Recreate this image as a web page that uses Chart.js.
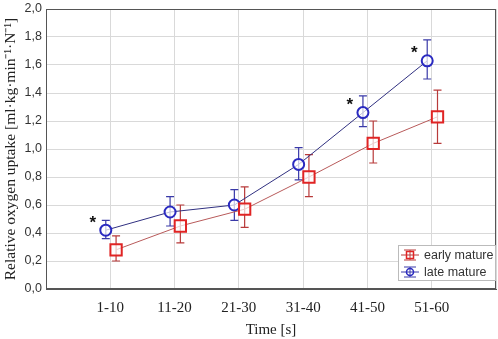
<!DOCTYPE html>
<html lang="en">
<head>
<meta charset="UTF-8">
<title>Relative oxygen uptake</title>
<script src="https://cdn.jsdelivr.net/npm/chart.js"></script>
<style>
  html, body { margin: 0; padding: 0; background: #fff; }
  #wrap { width: 498px; height: 339px; }
</style>
</head>
<body>
<div id="wrap"><canvas id="oxygen-chart" width="498" height="339"></canvas></div>
<script>
// time intervals
const categories = ['1-10', '11-20', '21-30', '31-40', '41-50', '51-60'];

// early mature: means and error bar ends
const earlyMean = [0.28, 0.45, 0.57, 0.80, 1.04, 1.23];
const earlyLow  = [0.20, 0.33, 0.44, 0.66, 0.90, 1.04];
const earlyHigh = [0.38, 0.60, 0.73, 0.96, 1.20, 1.42];

// late mature
const lateMean = [0.42, 0.55, 0.60, 0.89, 1.26, 1.63];
const lateLow  = [0.36, 0.45, 0.49, 0.78, 1.16, 1.50];
const lateHigh = [0.49, 0.66, 0.71, 1.01, 1.38, 1.78];

// significant difference marks
const significant = [true, false, false, false, true, true];

const yTicks = [0, 0.2, 0.4, 0.6, 0.8, 1.0, 1.2, 1.4, 1.6, 1.8, 2.0];

const serif = "'Liberation Serif', 'Times New Roman', serif";
const sans = "'Liberation Sans', Arial, sans-serif";

const errors = [
    { low: earlyLow, high: earlyHigh, color: '#b83a3a' },
    { low: lateLow, high: lateHigh, color: '#3a3aa8' }
];

// error bars drawn under the markers
const errorBars = {
    id: 'errorBars',
    beforeDatasetsDraw(chart) {
        const ctx = chart.ctx;
        const y = chart.scales.y;
        chart.data.datasets.forEach((ds, i) => {
            const meta = chart.getDatasetMeta(i);
            const e = errors[i];
            ctx.save();
            ctx.strokeStyle = e.color;
            ctx.lineWidth = 1.2;
            meta.data.forEach((pt, j) => {
                const top = y.getPixelForValue(e.high[j]);
                const bot = y.getPixelForValue(e.low[j]);
                ctx.beginPath();
                ctx.moveTo(pt.x, top); ctx.lineTo(pt.x, bot);
                ctx.moveTo(pt.x - 4, top); ctx.lineTo(pt.x + 4, top);
                ctx.moveTo(pt.x - 4, bot); ctx.lineTo(pt.x + 4, bot);
                ctx.stroke();
            });
            ctx.restore();
        });
    },
    afterDatasetsDraw(chart) {
        const ctx = chart.ctx;
        const area = chart.chartArea;
        // asterisks next to late mature points
        const meta = chart.getDatasetMeta(1);
        ctx.save();
        ctx.fillStyle = '#111';
        ctx.font = "bold 17px " + sans;
        ctx.textAlign = 'center';
        ctx.textBaseline = 'middle';
        meta.data.forEach((pt, j) => {
            if (significant[j]) ctx.fillText('*', pt.x - 13, pt.y - 7);
        });
        ctx.restore();

        // frame
        ctx.save();
        ctx.strokeStyle = '#555';
        ctx.lineWidth = 1;
        ctx.strokeRect(area.left + 0.5, area.top + 0.5, area.right - area.left - 1, area.bottom - area.top - 1);
        ctx.restore();

        // legend box in the lower right corner
        const lx = area.right - 98, ly = area.bottom - 44, lw = 97, lh = 35;
        ctx.save();
        ctx.fillStyle = '#fff';
        ctx.fillRect(lx, ly, lw, lh);
        ctx.strokeStyle = '#bbb';
        ctx.strokeRect(lx + 0.5, ly + 0.5, lw, lh);
        chart.data.datasets.forEach((ds, i) => {
            const cy = ly + 10 + i * 17;
            const cx = lx + 12;
            ctx.strokeStyle = errors[i].color;
            ctx.lineWidth = 1;
            ctx.beginPath();
            ctx.moveTo(cx - 9, cy); ctx.lineTo(cx + 9, cy);
            ctx.moveTo(cx, cy - 5); ctx.lineTo(cx, cy + 5);
            ctx.moveTo(cx - 6, cy - 5); ctx.lineTo(cx + 6, cy - 5);
            ctx.moveTo(cx - 6, cy + 5); ctx.lineTo(cx + 6, cy + 5);
            ctx.stroke();
            ctx.strokeStyle = ds.pointBorderColor;
            ctx.lineWidth = 1.5;
            ctx.beginPath();
            if (i === 0) ctx.rect(cx - 3.5, cy - 3.5, 7, 7);
            else ctx.arc(cx, cy, 3.5, 0, Math.PI * 2);
            ctx.stroke();
            ctx.fillStyle = '#333';
            ctx.font = "12.5px " + sans;
            ctx.textBaseline = 'middle';
            ctx.fillText(ds.label, cx + 14, cy + 1);
        });
        ctx.restore();
    }
};

const early = earlyMean.map((v, i) => ({ x: i + 1 + 0.09, y: v }));
const late = lateMean.map((v, i) => ({ x: i + 1 - 0.07, y: v }));

new Chart(document.getElementById('oxygen-chart'), {
    type: 'scatter',
    data: {
        datasets: [
            {
                label: 'early mature',
                data: early,
                showLine: true,
                borderColor: '#b85a5a',
                borderWidth: 1,
                pointStyle: 'rect',
                pointRadius: 8,
                pointBorderWidth: 2,
                pointBorderColor: '#e02424',
                pointBackgroundColor: 'rgba(255,255,255,0.7)'
            },
            {
                label: 'late mature',
                data: late,
                showLine: true,
                borderColor: '#303080',
                borderWidth: 1,
                pointStyle: 'circle',
                pointRadius: 5.5,
                pointBorderWidth: 2,
                pointBorderColor: '#2a2ac0',
                pointBackgroundColor: 'rgba(255,255,255,0.7)'
            }
        ]
    },
    options: {
        responsive: false,
        animation: false,
        layout: { autoPadding: false, padding: { left: 0, right: 2, top: 9, bottom: 0 } },
        plugins: {
            legend: { display: false },
            tooltip: { enabled: false }
        },
        scales: {
            x: {
                type: 'linear',
                min: 0,
                max: 7,
                afterFit: s => { s.height = 50; s.paddingLeft = 0; s.paddingRight = 0; },
                ticks: {
                    stepSize: 1,
                    color: '#222',
                    font: { family: serif, size: 15 },
                    padding: 10,
                    callback: v => categories[v - 1] || ''
                },
                grid: { color: '#d9d9d9', drawTicks: false },
                border: { color: '#555' },
                title: {
                    display: true,
                    text: 'Time [s]',
                    color: '#222',
                    font: { family: serif, size: 15 },
                    padding: { top: 2, bottom: 0 }
                }
            },
            y: {
                min: 0,
                max: 2,
                afterFit: s => { s.width = 46; s.paddingTop = 0; s.paddingBottom = 0; },
                afterBuildTicks: s => { s.ticks = yTicks.map(v => ({ value: v })); },
                ticks: {
                    color: '#333',
                    font: { family: sans, size: 12.5 },
                    padding: 4,
                    callback: v => v.toFixed(1).replace('.', ',')
                },
                grid: { color: '#d9d9d9', drawTicks: false },
                border: { color: '#555' },
                title: {
                    display: true,
                    text: 'Relative oxygen uptake [ml·kg·min⁻¹·N⁻¹]',
                    color: '#222',
                    font: { family: serif, size: 15.5 },
                    padding: { top: 2, bottom: 0 }
                }
            }
        }
    },
    plugins: [errorBars]
});
</script>
</body>
</html>
